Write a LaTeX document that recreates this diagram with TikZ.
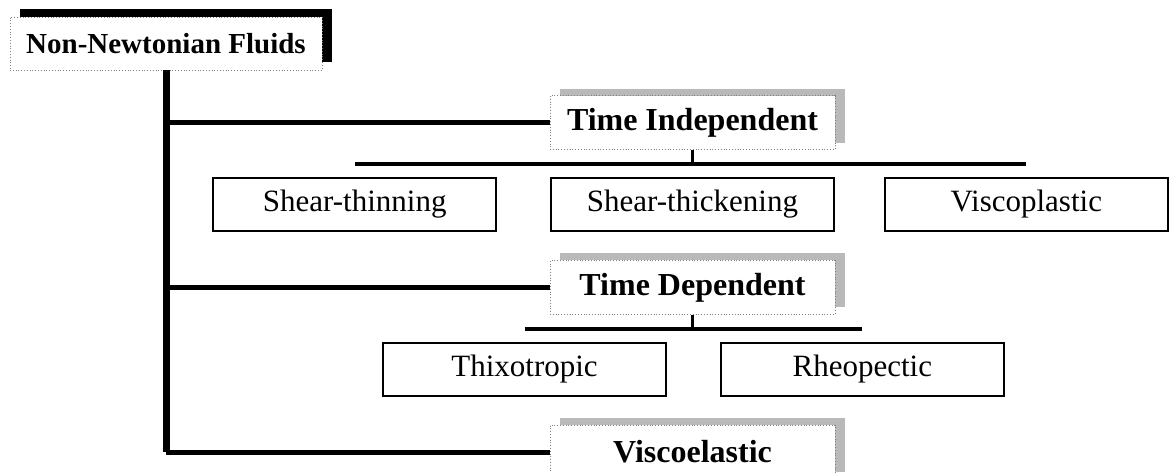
\documentclass[tikz,border=0pt]{standalone}
\usepackage{fontspec}
\setmainfont{Liberation Serif}
\usetikzlibrary{positioning, shadows}
\tikzset{root node/.style={rectangle,draw=gray,densely dotted,fill=white,line width=0.4pt,minimum width=156pt,minimum height=26.5pt,inner sep=0pt,font=\fontsize{14.5}{17}\selectfont\bfseries,drop shadow={shadow xshift=5pt,shadow yshift=4pt,fill=black,opacity=1}},
  group node/.style={rectangle,draw=gray,densely dotted,fill=white,line width=0.4pt,minimum width=142.5pt,minimum height=27pt,inner sep=0pt,font=\fontsize{16}{19}\selectfont\bfseries,drop shadow={shadow xshift=5pt,shadow yshift=3.5pt,fill=gray!55,opacity=1}},
  leaf node/.style={rectangle,draw,fill=white,line width=0.9pt,minimum width=141.5pt,minimum height=26.5pt,inner sep=0pt,font=\fontsize{15.5}{18}\selectfont},
  trunk line/.style={line width=3.5pt},
  branch line/.style={line width=2.5pt},
  bar line/.style={line width=2pt},}

\begin{document}
\begin{tikzpicture}[x=0.5pt, y=-0.5pt]
   \useasboundingbox (0,0) rectangle (1172,472);
   \node[root node] (root) at (166,43.5) {Non-Newtonian Fluids};
   \node[group node] (tind) at (692.5,122.5) {Time Independent};
   \node[leaf node] (thick) [below = 13.5pt of tind]{Shear-thickening};
   \node[leaf node] (thin) [left = 26.5pt of thick]{Shear-thinning};
   \node[leaf node] (plast) [right = 24.5pt of thick]{Viscoplastic};
   \node[group node] (tdep) [below = 55pt of tind]{Time Dependent};
   \node[leaf node] (thixo) [below = 13.5pt of tdep, xshift=-84pt]{Thixotropic};
   \node[leaf node] (rheo) [right = 26.5pt of thixo]{Rheopectic};
   \node[group node] (velas) [below = 55pt of tdep]{Viscoelastic};
   \coordinate[above = 6.5pt of thin] (tindL);
   \coordinate[above = 6.5pt of plast] (tindR);
   \coordinate[above = 6.5pt of thixo] (tdepL);
   \coordinate[above = 6.5pt of rheo] (tdepR);
   % tree lines
   \draw[trunk line] (root.south) -- (root.south |- velas.west);
   \draw[branch line] (root.south |- tind.west) -- (tind.west);
   \draw[branch line] (root.south |- tdep.west) -- (tdep.west);
   \draw[branch line] (root.south |- velas.west) -- (velas.west);
   \draw[bar line] (tindL) -- (tindR);
   \draw[bar line] (tdepL) -- (tdepR);
   \draw[line width=1.5pt] (tind.south) -- (tind.south |- tindL);
   \draw[line width=1.5pt] (tdep.south) -- (tdep.south |- tdepL);
\end{tikzpicture}
\end{document}
